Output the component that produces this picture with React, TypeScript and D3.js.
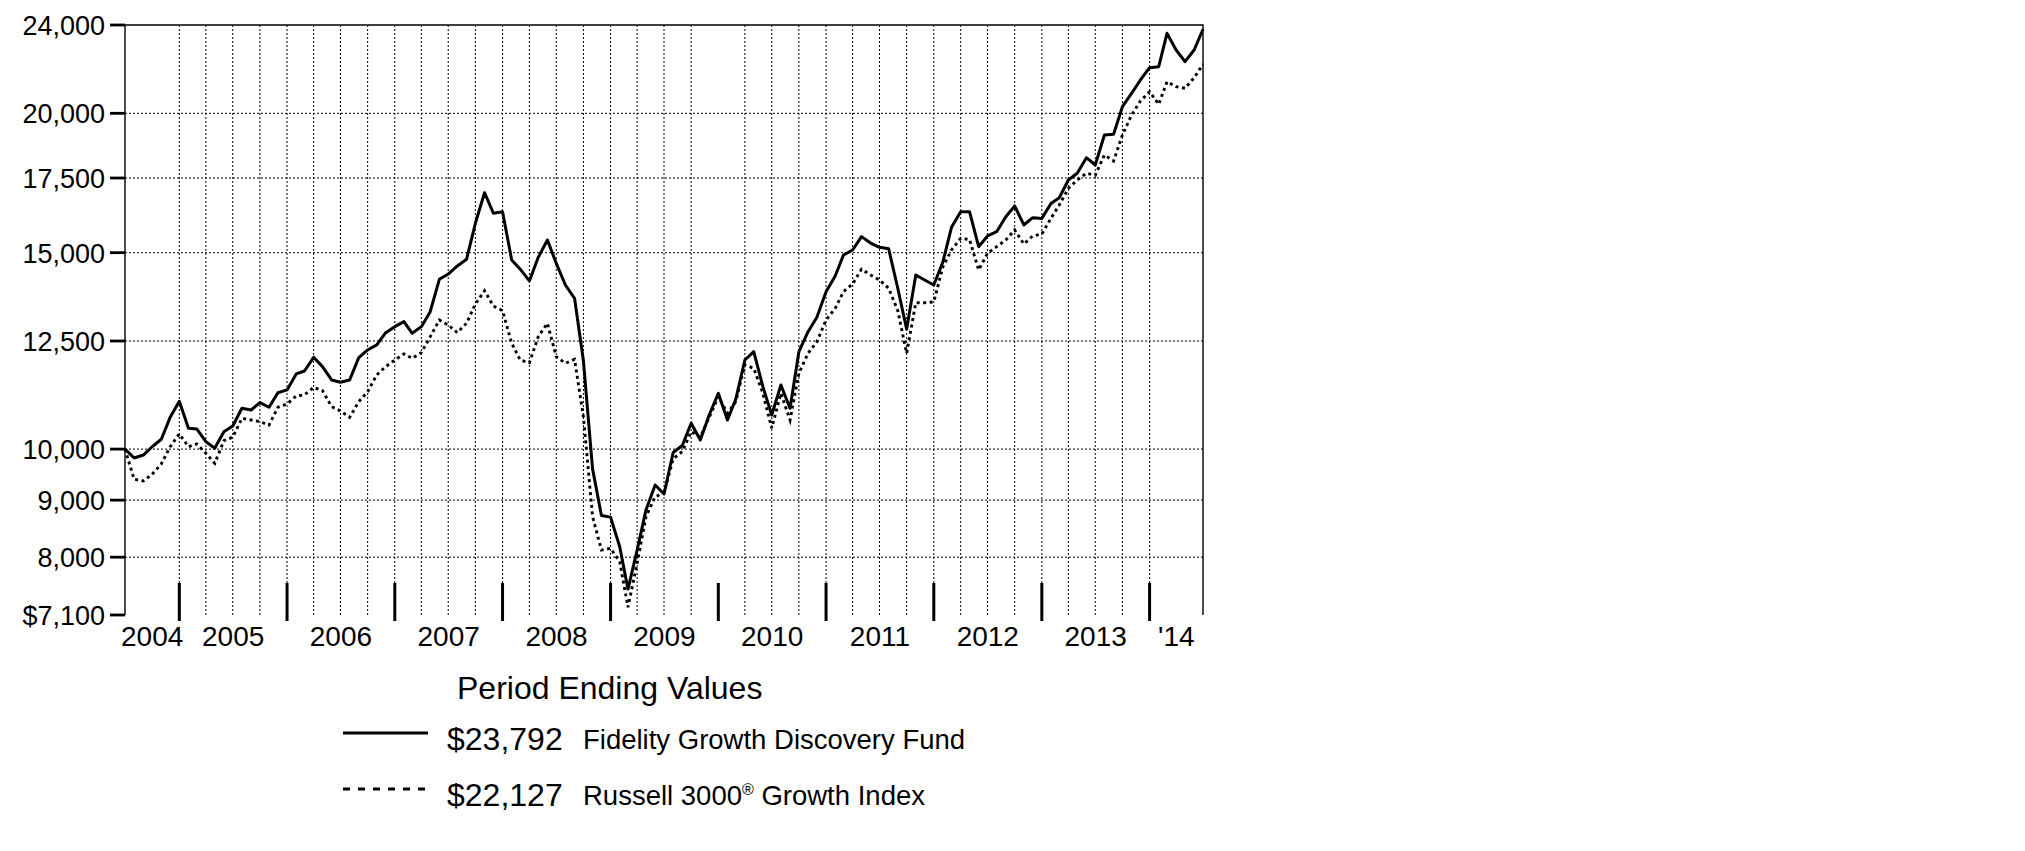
import React, { useEffect, useRef } from "react";
import * as d3 from "d3";

// month-end values, June 2004 .. June 2014 (hypothetical $10,000 investment)
const fundValues: number[] = [
  10000, 9818, 9878, 10049, 10205, 10678, 11038, 10440, 10426, 10155, 10017, 10366,
  10489, 10879, 10841, 11007, 10902, 11234, 11299, 11678, 11750, 12086, 11856, 11534,
  11479, 11534, 12077, 12271, 12399, 12717, 12876, 13010, 12701, 12876, 13279, 14198,
  14354, 14594, 14797, 15938, 16977, 16272, 16325, 14777, 14497, 14151, 14858, 15399,
  14674, 14032, 13651, 12000, 9600, 8720, 8690, 8175, 7490, 8119, 8820, 9285,
  9115, 9930, 10075, 10548, 10190, 10730, 11220, 10619, 11084, 12019, 12228, 11376,
  10730, 11415, 10879, 12228, 12742, 13126, 13840, 14296, 14929, 15084, 15505, 15300,
  15168, 15124, 13937, 12807, 14326, 14178, 14032, 14724, 15806, 16325, 16325, 15187,
  15526, 15664, 16157, 16519, 15883, 16123, 16100, 16600, 16800, 17429, 17672, 18249,
  17976, 19125, 19155, 20275, 20844, 21425, 21976, 22020, 23592, 22793, 22249, 22793,
  23792,
];

const indexValues: number[] = [
  10000, 9396, 9363, 9493, 9697, 10049, 10318, 10049, 10107, 9915, 9711, 10176,
  10248, 10656, 10619, 10583, 10509, 10902, 10976, 11160, 11183, 11361, 11282, 10915,
  10819, 10678, 11028, 11259, 11655, 11856, 12019, 12170, 12062, 12203, 12612, 13054,
  12919, 12717, 12965, 13492, 13867, 13437, 13308, 12442, 12019, 11952, 12612, 12965,
  12101, 11938, 12037, 10692, 8700, 8119, 8148, 7927, 7215, 7900, 8698, 9065,
  9129, 9800, 9950, 10366, 10248, 10678, 11143, 10768, 11028, 11897, 11815, 11220,
  10440, 11220, 10619, 11694, 12187, 12482, 13054, 13372, 13840, 14061, 14497, 14326,
  14178, 13937, 13308, 12187, 13528, 13528, 13552, 14573, 15084, 15451, 15413, 14475,
  14981, 15187, 15399, 15720, 15271, 15526, 15590, 16104, 16550, 17131, 17429, 17672,
  17600, 18353, 18124, 19125, 19929, 20515, 20913, 20376, 21350, 21130, 21060, 21525,
  22127,
];

const yTicks: number[] = [24000, 20000, 17500, 15000, 12500, 10000, 9000, 8000, 7100];
const yearLabels: string[] = ["2004", "2005", "2006", "2007", "2008", "2009", "2010", "2011", "2012", "2013", "'14"];

const legendItems = [
  { amount: "$23,792", name: "Fidelity Growth Discovery Fund", dashed: false },
  { amount: "$22,127", name: "Russell 3000", mark: "®", rest: " Growth Index", dashed: true },
];

const FONT = "'Liberation Sans', Arial, Helvetica, sans-serif";

const monthEnd = (i: number) => new Date(2004, 6 + i, 0);

const App: React.FC = () => {
  const ref = useRef<SVGSVGElement | null>(null);

  useEffect(() => {
    const svg = d3.select(ref.current);
    svg.selectAll("*").remove();

    const left = 125, right = 1203, top = 25, bottom = 615;
    const dates = fundValues.map((_, i) => monthEnd(i));

    const x = d3.scaleTime().domain([dates[0], dates[dates.length - 1]]).range([left, right]);
    const y = d3.scaleLog().domain([7100, 24000]).range([bottom, top]);

    // horizontal grid
    svg.append("g")
      .selectAll("line")
      .data(yTicks.filter(t => t !== 24000 && t !== 7100))
      .enter()
      .append("line")
      .attr("x1", left).attr("x2", right)
      .attr("y1", d => y(d)).attr("y2", d => y(d))
      .attr("stroke", "#000").attr("stroke-width", 1)
      .attr("stroke-dasharray", "2,2");

    // vertical grid: quarter ends Dec 2004 .. Dec 2013 (Dec 2009 line is absent in the original)
    const quarters = d3.range(6, 115, 3).filter(i => i !== 66).map(monthEnd);
    svg.append("g")
      .selectAll("line")
      .data(quarters)
      .enter()
      .append("line")
      .attr("x1", d => x(d)).attr("x2", d => x(d))
      .attr("y1", top).attr("y2", bottom)
      .attr("stroke", "#000").attr("stroke-width", 1)
      .attr("stroke-dasharray", "2,2");

    // frame: left axis, top and right border
    svg.append("path")
      .attr("d", `M${left},${bottom}V${top}H${right}V${bottom}`)
      .attr("fill", "none").attr("stroke", "#000").attr("stroke-width", 1.4);

    // y ticks + labels
    const yAxis = svg.append("g");
    yAxis.selectAll("line")
      .data(yTicks)
      .enter()
      .append("line")
      .attr("x1", left - 15).attr("x2", left)
      .attr("y1", d => y(d)).attr("y2", d => y(d))
      .attr("stroke", "#000").attr("stroke-width", 2.8);
    yAxis.selectAll("text")
      .data(yTicks)
      .enter()
      .append("text")
      .attr("x", left - 20)
      .attr("y", d => y(d) + 10)
      .attr("text-anchor", "end")
      .attr("font-family", FONT)
      .attr("font-size", 27)
      .text(d => (d === 7100 ? "$" : "") + d3.format(",")(d));

    // year ticks (December) and labels
    const yearEnds = d3.range(6, 115, 12).map(monthEnd);
    svg.append("g")
      .selectAll("line")
      .data(yearEnds)
      .enter()
      .append("line")
      .attr("x1", d => x(d)).attr("x2", d => x(d))
      .attr("y1", 583).attr("y2", 621)
      .attr("stroke", "#000").attr("stroke-width", 3);

    const bounds = [dates[0], ...yearEnds, dates[dates.length - 1]];
    svg.append("g")
      .selectAll("text")
      .data(yearLabels)
      .enter()
      .append("text")
      .attr("x", (_, i) => (x(bounds[i]) + x(bounds[i + 1])) / 2)
      .attr("y", 646)
      .attr("text-anchor", "middle")
      .attr("font-family", FONT)
      .attr("font-size", 28)
      .text(d => d);

    // series
    const line = d3.line<number>()
      .x((_, i) => x(dates[i]))
      .y(d => y(d));

    svg.append("path")
      .datum(indexValues)
      .attr("d", line)
      .attr("fill", "none")
      .attr("stroke", "#000")
      .attr("stroke-width", 2.9)
      .attr("stroke-dasharray", "3,3.5");

    svg.append("path")
      .datum(fundValues)
      .attr("d", line)
      .attr("fill", "none")
      .attr("stroke", "#000")
      .attr("stroke-width", 3)
      .attr("stroke-linejoin", "round");

    // legend
    svg.append("text")
      .attr("x", 457).attr("y", 699)
      .attr("font-family", FONT).attr("font-size", 32)
      .text("Period Ending Values");

    const rows = svg.append("g")
      .selectAll("g")
      .data(legendItems)
      .enter()
      .append("g")
      .attr("transform", (_, i) => `translate(0,${733 + i * 56})`);

    rows.append("line")
      .attr("x1", 343).attr("x2", 428)
      .attr("y1", 0).attr("y2", 0)
      .attr("stroke", "#000")
      .attr("stroke-width", 3.2)
      .attr("stroke-dasharray", d => (d.dashed ? "7,8" : null));

    rows.append("text")
      .attr("x", 447).attr("y", 17)
      .attr("font-family", FONT).attr("font-size", 32)
      .text(d => d.amount);

    const names = rows.append("text")
      .attr("x", 583).attr("y", 16)
      .attr("font-family", FONT).attr("font-size", 27.5);
    names.append("tspan").text(d => d.name);
    names.filter(d => !!d.mark)
      .append("tspan")
      .attr("font-size", 16)
      .attr("dy", -10)
      .text(d => d.mark as string);
    names.filter(d => !!d.rest)
      .append("tspan")
      .attr("dy", 10)
      .text(d => d.rest as string);
  }, []);

  return (
    <div style={{ position: "absolute", left: 0, top: 0, background: "#fff" }}>
      <svg ref={ref} width={2025} height={851} style={{ display: "block", background: "#fff" }} />
    </div>
  );
};

export default App;
